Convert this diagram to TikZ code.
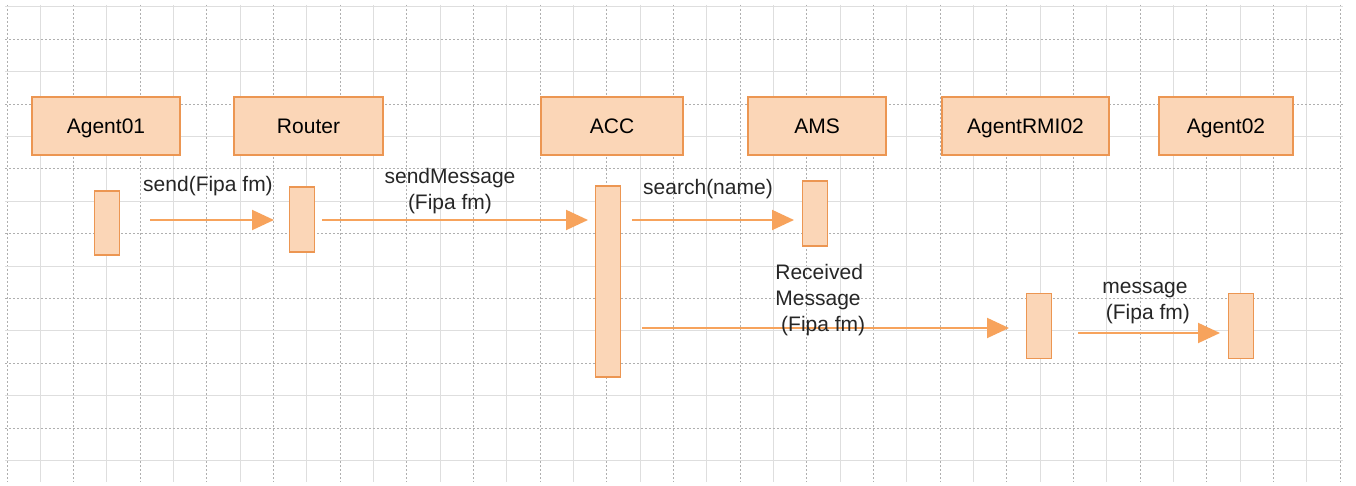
\documentclass[tikz,border=0pt]{standalone}
\usepackage{fontspec}
\setmainfont{Liberation Sans}
\usetikzlibrary{arrows.meta}
\definecolor{boxfill}{RGB}{251,214,183}
\definecolor{boxdraw}{RGB}{236,150,82}
\definecolor{arr}{RGB}{247,163,92}
\definecolor{gdark}{RGB}{175,175,175}
\definecolor{glight}{RGB}{222,222,222}
\tikzset{
  obj/.style={draw=boxdraw, fill=boxfill, line width=0.8pt, minimum width=#1, minimum height=29pt, inner sep=0pt, text height=8.4pt, text depth=0.4pt, font=\fontsize{10.5}{12}\selectfont},
  act/.style={draw=boxdraw, fill=boxfill, line width=0.8pt, minimum width=12.5pt, minimum height=#1, inner sep=0pt},
  msg/.style={draw=arr, line width=1pt, -{Triangle[length=11pt,width=10pt]}},
  lbl/.style={font=\fontsize{10.5}{13.2}\selectfont, inner sep=0pt, text=black!85},
}
\begin{document}
\begin{tikzpicture}[x=0.5pt,y=-0.5pt]
\useasboundingbox (0,0) rectangle (1356,486);
\fill[white] (0,0) rectangle (1356,486);
% grid
\foreach \i in {0,...,40}{
  \pgfmathsetmacro{\xx}{7+\i*33.33}
  \ifodd\i
    \draw[glight, line width=0.5pt] (\xx,5) -- (\xx,482);
  \else
    \draw[gdark, line width=0.5pt, dash pattern=on 1pt off 1pt] (\xx,5) -- (\xx,482);
  \fi
}
\foreach \j in {0,...,14}{
  \pgfmathsetmacro{\yy}{7+\j*32.4}
  \ifodd\j
    \draw[gdark, line width=0.5pt, dash pattern=on 1pt off 1pt] (5,\yy) -- (1343,\yy);
  \else
    \draw[glight, line width=0.5pt] (5,\yy) -- (1343,\yy);
  \fi
}
% objects
\node[obj=74pt] (agent01) at (106,126) {Agent01};
\node[obj=74.5pt] (router) at (308.5,126) {Router};
\node[obj=71pt] (acc) at (612,126) {ACC};
\node[obj=69pt] (ams) at (817,126) {AMS};
\node[obj=83.5pt] (rmi) at (1025.5,126) {AgentRMI02};
\node[obj=67pt] (agent02) at (1226,126) {Agent02};
% activations
\node[act=32pt] (a1) at (107,223) {};
\node[act=32.5pt] (a2) at (302,219.5) {};
\node[act=95.5pt] (a3) at (608,281.5) {};
\node[act=32.5pt] (a4) at (815,213.5) {};
\node[act=32.5pt] (a5) at (1039,326) {};
\node[act=32.5pt] (a6) at (1241,326) {};
% connector end points
\coordinate (s1) at (150,220); \coordinate (e1) at (274,220);
\coordinate (s2) at (322,220); \coordinate (e2) at (588,220);
\coordinate (s3) at (632,220); \coordinate (e3) at (794,220);
\coordinate (s4) at (642,328); \coordinate (e4) at (1009,328);
\coordinate (s5) at (1078,333); \coordinate (e5) at (1220,333);
\draw[msg] (s1) -- (e1);
\draw[msg] (s2) -- (e2);
\draw[msg] (s3) -- (e3);
\draw[msg] (s4) -- (e4);
\draw[msg] (s5) -- (e5);
% labels
\node[lbl] (l1) at (208,186) {send(Fipa fm)};
\node[lbl, align=center] (l2) at (450,191) {sendMessage\\(Fipa fm)};
\node[lbl] (l3) at (708,189) {search(name)};
\node[lbl, align=left, anchor=west] (l4) at (775,300) {Received\\Message\\\ (Fipa fm)};
\node[lbl, align=center] (l5) at (1145,303) {message\\\ (Fipa fm)};
\end{tikzpicture}
\end{document}
